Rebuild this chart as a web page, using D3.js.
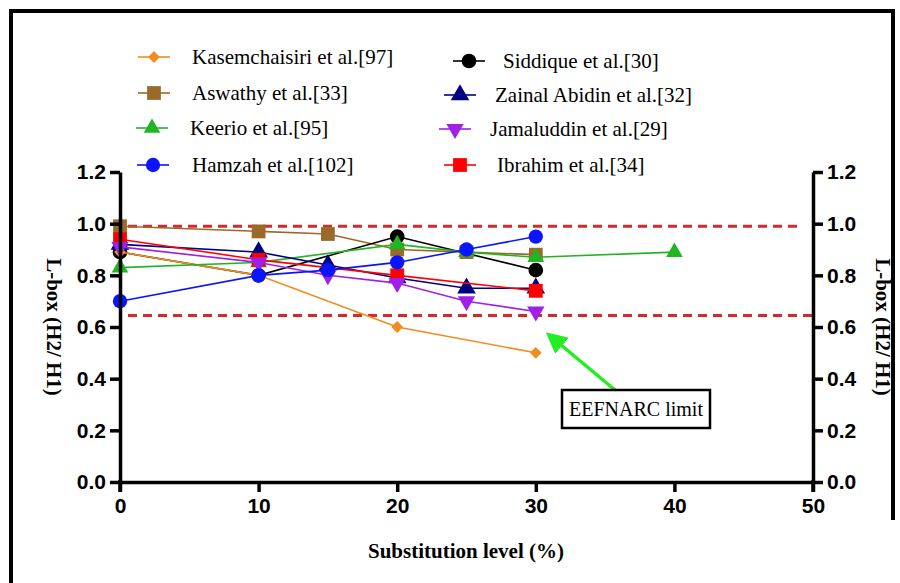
<!DOCTYPE html>
<html>
<head>
<meta charset="utf-8">
<script src="https://cdn.jsdelivr.net/npm/d3@7"></script>
<style>
  body { margin: 0; background: #fff; }
  svg { display: block; }
</style>
</head>
<body>
<script>
// Data
var kasemX = [0, 10, 20, 30],          kasemY = [0.89, 0.80, 0.60, 0.50];
var aswathyX = [0, 10, 15, 20, 25, 30], aswathyY = [0.99, 0.97, 0.96, 0.90, 0.89, 0.88];
var keerioX = [0, 10, 20, 25, 30, 40], keerioY = [0.83, 0.85, 0.92, 0.89, 0.87, 0.89];
var hamzahX = [0, 10, 15, 20, 25, 30], hamzahY = [0.70, 0.80, 0.82, 0.85, 0.90, 0.95];
var siddiqueX = [0, 10, 20, 30],       siddiqueY = [0.89, 0.80, 0.95, 0.82];
var zainalX = [0, 10, 15, 20, 25, 30], zainalY = [0.92, 0.89, 0.84, 0.79, 0.75, 0.75];
var jamalX = [0, 10, 15, 20, 25, 30],  jamalY = [0.91, 0.85, 0.80, 0.77, 0.70, 0.66];
var ibrahimX = [0, 10, 20, 30],        ibrahimY = [0.94, 0.86, 0.80, 0.74];

var xTicks = [0, 10, 20, 30, 40, 50];
var yTicks = [0, 0.2, 0.4, 0.6, 0.8, 1.0, 1.2];
var limitLines = [0.99, 0.645];

var SERIF = "'Liberation Serif', 'Times New Roman', Times, 'DejaVu Serif', serif";
var SANS = "'Liberation Sans', Arial, Helvetica, sans-serif";

var svg = d3.select("body").append("svg")
    .attr("width", 900)
    .attr("height", 583);

// frame of the figure
svg.append("path")
    .attr("d", "M11,583 L11,11 L893,11 L893,520")
    .attr("fill", "none")
    .attr("stroke", "#000")
    .attr("stroke-width", 4);

var x = d3.scaleLinear().domain([0, 50]).range([120, 813]);
var y = d3.scaleLinear().domain([0, 1.2]).range([482, 172]);

var sym = {
    diamond: function(s){ return d3.symbol().type(d3.symbolSquare).size(s)(); },
    square: function(s){ return d3.symbol().type(d3.symbolSquare).size(s)(); },
    circle: function(s){ return d3.symbol().type(d3.symbolCircle).size(s)(); },
    triangle: function(s){ return d3.symbol().type(d3.symbolTriangle).size(s)(); }
};

// series table built from the arrays (drawing order)
var series = [
    {name: "Aswathy et al.[33]", xs: aswathyX, ys: aswathyY, color: "#9a6a2a", shape: "square", size: 190, rot: 0, lx: 154, ly: 93, tx: 192},
    {name: "Siddique et al.[30]", xs: siddiqueX, ys: siddiqueY, color: "#000000", shape: "circle", size: 170, rot: 0, lx: 469, ly: 61, tx: 503},
    {name: "Kasemchaisiri et al.[97]", xs: kasemX, ys: kasemY, color: "#f28c1e", shape: "diamond", size: 70, rot: 45, lx: 154, ly: 57, tx: 192},
    {name: "Keerio et al.[95]", xs: keerioX, ys: keerioY, color: "#22b422", shape: "triangle", size: 120, rot: 0, lx: 152, ly: 128, tx: 190},
    {name: "Zainal Abidin et al.[32]", xs: zainalX, ys: zainalY, color: "#000080", shape: "triangle", size: 150, rot: 0, lx: 460, ly: 95, tx: 495},
    {name: "Ibrahim et al.[34]", xs: ibrahimX, ys: ibrahimY, color: "#ff0000", shape: "square", size: 190, rot: 0, lx: 460, ly: 165, tx: 497},
    {name: "Jamaluddin et al.[29]", xs: jamalX, ys: jamalY, color: "#a020e8", shape: "triangle", size: 130, rot: 180, lx: 455, ly: 129, tx: 490},
    {name: "Hamzah et al.[102]", xs: hamzahX, ys: hamzahY, color: "#0a14ff", shape: "circle", size: 160, rot: 0, lx: 153, ly: 165, tx: 192}
];

// limit lines
limitLines.forEach(function(v, i){
    svg.append("line")
        .attr("x1", 128)
        .attr("x2", i == 0 ? 798 : 813)
        .attr("y1", y(v))
        .attr("y2", y(v))
        .attr("stroke", "#d42a2a")
        .attr("stroke-width", 3)
        .attr("stroke-dasharray", "9,6");
});

var line = d3.line()
    .x(function(d){ return x(d[0]); })
    .y(function(d){ return y(d[1]); });

series.forEach(function(s){
    var pts = s.xs.map(function(v, i){ return [v, s.ys[i]]; });
    svg.append("path")
        .attr("d", line(pts))
        .attr("fill", "none")
        .attr("stroke", s.color)
        .attr("stroke-width", 1.6);
    svg.selectAll(null)
        .data(pts)
        .enter().append("path")
        .attr("d", sym[s.shape](s.size))
        .attr("transform", function(d){
            return "translate(" + x(d[0]) + "," + y(d[1]) + ") rotate(" + s.rot + ")";
        })
        .attr("fill", s.color);
});

// axes
function styleAxis(g){
    g.select(".domain").attr("stroke-width", 3.5).attr("stroke", "#000");
    g.selectAll(".tick line").attr("stroke-width", 3.5).attr("stroke", "#000");
    g.selectAll(".tick text")
        .style("font-family", SANS)
        .style("font-weight", "bold")
        .style("font-size", "21px")
        .attr("fill", "#000");
}

var fmt = d3.format(".1f");

svg.append("g")
    .attr("transform", "translate(0,482)")
    .call(d3.axisBottom(x).tickValues(xTicks).tickSize(10).tickSizeOuter(0).tickPadding(6))
    .call(styleAxis);

svg.append("g")
    .attr("transform", "translate(120,0)")
    .call(d3.axisLeft(y).tickValues(yTicks).tickFormat(fmt).tickSize(10).tickSizeOuter(0).tickPadding(4))
    .call(styleAxis);

svg.append("g")
    .attr("transform", "translate(813,0)")
    .call(d3.axisRight(y).tickValues(yTicks).tickFormat(fmt).tickSize(10).tickSizeOuter(0).tickPadding(4))
    .call(styleAxis);

// extend vertical axes below zero, like the original
[120, 813].forEach(function(px){
    svg.append("line")
        .attr("x1", px).attr("x2", px)
        .attr("y1", 480).attr("y2", 492)
        .attr("stroke", "#000").attr("stroke-width", 3.5);
});

// axis titles
svg.append("text")
    .attr("transform", "translate(466,558)")
    .attr("text-anchor", "middle")
    .style("font-family", SERIF)
    .style("font-weight", "bold")
    .style("font-size", "21px")
    .text("Substitution level (%)");

[47, 876].forEach(function(px){
    svg.append("text")
        .attr("transform", "translate(" + px + ",327) rotate(90)")
        .attr("text-anchor", "middle")
        .style("font-family", SERIF)
        .style("font-weight", "bold")
        .style("font-size", "21px")
        .text("L-box (H2/ H1)");
});

// legend
series.forEach(function(s){
    svg.append("line")
        .attr("x1", s.lx - 16).attr("x2", s.lx + 16)
        .attr("y1", s.ly).attr("y2", s.ly)
        .attr("stroke", s.color)
        .attr("stroke-width", 1.6);
    svg.append("path")
        .attr("d", sym[s.shape](s.size))
        .attr("transform", "translate(" + s.lx + "," + s.ly + ") rotate(" + s.rot + ")")
        .attr("fill", s.color);
    svg.append("text")
        .attr("x", s.tx)
        .attr("y", s.ly + 7)
        .style("font-family", SERIF)
        .style("font-size", "21px")
        .text(s.name);
});

// annotation
svg.append("defs").append("marker")
    .attr("id", "head")
    .attr("viewBox", "0 0 10 10")
    .attr("refX", 8).attr("refY", 5)
    .attr("markerWidth", 6).attr("markerHeight", 6)
    .attr("markerUnits", "strokeWidth")
    .attr("orient", "auto")
    .append("path")
    .attr("d", "M0,0 L10,5 L0,10 z")
    .attr("fill", "#22ee22");

svg.append("line")
    .attr("x1", 615).attr("y1", 390)
    .attr("x2", 549).attr("y2", 335)
    .attr("stroke", "#22ee22")
    .attr("stroke-width", 3.5)
    .attr("marker-end", "url(#head)");

svg.append("rect")
    .attr("x", 562).attr("y", 390)
    .attr("width", 148).attr("height", 38)
    .attr("fill", "#fff")
    .attr("stroke", "#000")
    .attr("stroke-width", 2.5);

svg.append("text")
    .attr("x", 636).attr("y", 416)
    .attr("text-anchor", "middle")
    .style("font-family", SERIF)
    .style("font-size", "20px")
    .text("EEFNARC limit");
</script>
</body>
</html>
